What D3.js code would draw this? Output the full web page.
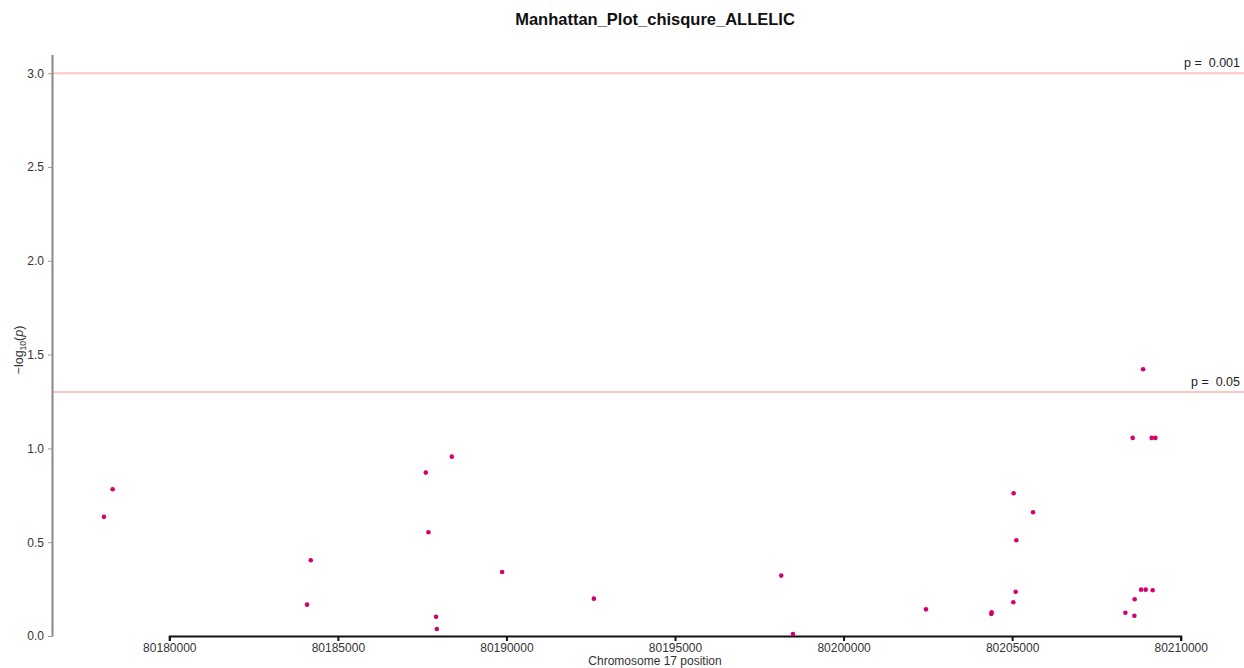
<!DOCTYPE html>
<html>
<head>
<meta charset="utf-8">
<script src="https://cdn.jsdelivr.net/npm/d3@7"></script>
<style>
  body { margin: 0; background: #fff; }
  svg { font-family: "Liberation Sans", Arial, sans-serif; }
</style>
</head>
<body>
<div class="chart-wrapper"></div>
<script>
// SNP positions on chr17 and their -log10(p)
const positions = [80178062, 80178320, 80184086, 80184196, 80187608, 80187686, 80187914, 80187935, 80188380, 80189873,
  80192593, 80198151, 80198499, 80202445, 80204383, 80204392, 80205035, 80205045, 80205104, 80205125, 80205620,
  80208359, 80208576, 80208626, 80208635, 80208825, 80208884, 80208961, 80209139, 80209169, 80209250]
const logp = [0.635, 0.782, 0.167, 0.404, 0.871, 0.553, 0.103, 0.037, 0.956, 0.341,
  0.199, 0.322, 0.011, 0.142, 0.117, 0.126, 0.180, 0.761, 0.236, 0.510, 0.660,
  0.124, 1.056, 0.108, 0.196, 0.247, 1.422, 0.247, 1.056, 0.244, 1.056]

const xTicks = [80180000, 80185000, 80190000, 80195000, 80200000, 80205000, 80210000]
const yTicks = [0, 0.5, 1, 1.5, 2, 2.5, 3]
const thresholds = [0.001, 0.05]

const width = 1244, height = 668
const pointColor = '#d4006f'

let svg = d3.select('.chart-wrapper').append('svg')
    .attr('width', width)
    .attr('height', height)

let x = d3.scaleLinear()
    .domain([80180000, 80210000])
    .range([169.3, 1180.7])

let y = d3.scaleLinear()
    .domain([0, 3.1])
    .range([636, 636 - 3.1 * 187.6])

// threshold lines
thresholds.forEach(p => {
    let v = -Math.log10(p)
    svg.append('line')
        .attr('x1', 52).attr('x2', width)
        .attr('y1', y(v)).attr('y2', y(v))
        .attr('stroke', '#ffc4c4')
        .attr('stroke-width', 2)
    svg.append('text')
        .attr('x', 1240)
        .attr('y', y(v) - 6)
        .attr('text-anchor', 'end')
        .style('white-space', 'pre')
        .style('font-size', '12.5px')
        .style('fill', '#222')
        .text('p =  ' + p)
})

// x axis
let xAxis = svg.append('g')
    .attr('transform', 'translate(0, 636)')
    .call(d3.axisBottom(x).tickValues(xTicks).tickFormat(d3.format('d')).tickSizeOuter(5).tickSizeInner(5))
xAxis.select('.domain').attr('stroke', '#111').attr('stroke-width', 2)
xAxis.selectAll('.tick line').attr('stroke', '#111').attr('stroke-width', 2)
xAxis.selectAll('.tick text')
    .attr('y', 7)
    .style('font-size', '12px')
    .style('font-family', '"Liberation Sans", Arial, sans-serif')
    .style('fill', '#333')

// y axis
let yAxis = svg.append('g')
    .attr('transform', 'translate(52, 0)')
    .call(d3.axisLeft(y).tickValues(yTicks).tickFormat(d3.format('.1f')).tickSizeOuter(0).tickSizeInner(4))
yAxis.select('.domain').attr('stroke', '#888').attr('stroke-width', 2)
yAxis.selectAll('.tick line').attr('stroke', '#999')
yAxis.selectAll('.tick text')
    .attr('x', -8)
    .style('font-size', '12px')
    .style('font-family', '"Liberation Sans", Arial, sans-serif')
    .style('fill', '#333')

// points
svg.append('g')
    .selectAll('circle')
    .data(positions)
    .enter()
    .append('circle')
    .attr('cx', d => x(d))
    .attr('cy', (d, i) => y(logp[i]))
    .attr('r', 2.3)
    .attr('fill', pointColor)

// title
svg.append('text')
    .attr('x', 655)
    .attr('y', 25)
    .attr('text-anchor', 'middle')
    .style('font-size', '16.5px')
    .style('font-weight', 'bold')
    .style('fill', '#111')
    .text('Manhattan_Plot_chisqure_ALLELIC')

// axis titles
svg.append('text')
    .attr('x', 655)
    .attr('y', 665)
    .attr('text-anchor', 'middle')
    .style('font-size', '12px')
    .style('fill', '#333')
    .text('Chromosome 17 position')

let ylab = svg.append('text')
    .attr('transform', 'translate(23, 350) rotate(-90)')
    .attr('text-anchor', 'middle')
    .style('font-size', '12.5px')
    .style('fill', '#333')
ylab.append('tspan').text('\u2212log')
ylab.append('tspan').attr('dy', 3).style('font-size', '8.5px').text('10')
ylab.append('tspan').attr('dy', -3).text('(')
ylab.append('tspan').style('font-style', 'italic').text('p')
ylab.append('tspan').text(')')
</script>
</body>
</html>
